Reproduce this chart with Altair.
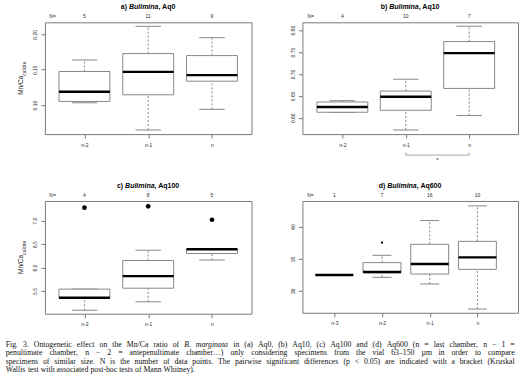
import altair as alt
import pandas as pd

# ---------------- data ----------------
cats3 = ["n-2", "n-1", "n"]
cats4 = ["n-3", "n-2", "n-1", "n"]

# a) Aq0
n_a = [5, 11, 9]
lo_a = [0.1033, 0.0648, 0.0940]
q1_a = [0.1052, 0.1146, 0.1338]
med_a = [0.1188, 0.1470, 0.1423]
q3_a = [0.1475, 0.1728, 0.1700]
hi_a = [0.1638, 0.2113, 0.1953]
yt_a = [0.10, 0.15, 0.20]

# b) Aq10
n_b = [4, 10, 7]
lo_b = [0.6125, 0.5720, 0.6050]
q1_b = [0.6125, 0.6170, 0.6670]
med_b = [0.6245, 0.6480, 0.7475]
q3_b = [0.6360, 0.6610, 0.7740]
hi_b = [0.6390, 0.6880, 0.8090]
yt_b = [0.60, 0.65, 0.70, 0.75, 0.80]

# c) Aq100
n_c = [4, 8, 5]
lo_c = [5.09, 5.27, 6.16]
q1_c = [5.345, 5.56, 6.30]
med_c = [5.355, 5.817, 6.39]
q3_c = [5.54, 6.15, 6.40]
hi_c = [5.54, 6.37, 6.40]
out_cat_c = ["n-2", "n-1", "n"]
out_val_c = [7.277, 7.306, 7.02]
yt_c = [5.5, 6.0, 6.5, 7.0]

# d) Aq600
n_d = [1, 7, 16, 10]
lo_d = [32.45, 32.08, 31.05, 27.14]
q1_d = [32.45, 32.80, 32.60, 33.33]
med_d = [32.45, 32.92, 34.17, 35.20]
q3_d = [32.45, 34.38, 37.24, 37.70]
hi_d = [32.45, 35.52, 40.94, 43.23]
out_cat_d = ["n-2"]
out_val_d = [37.5]
yt_d = [30, 35, 40]

# caption lines ("_" prefix marks italic words)
caption = [
    "Fig. 3.  Ontogenetic effect on the Mn/Ca ratio of _B. _marginata in (a) Aq0, (b) Aq10, (c) Aq100 and (d) Aq600 (n = last chamber, n \u2212 1 =",
    "penultimate chamber, n \u2212 2 = antepenultimate chamber\u2026) only considering specimens from the vial 63\u2013150 \u00b5m in order to compare",
    "specimens of similar size. N is the number of data points. The pairwise significant differences (p < 0.05) are indicated with a bracket (Kruskal",
    "Wallis test with associated post-hoc tests of Mann Whitney).",
]

GRAY = "#7a7a7a"
TXT = "#2a2a2a"
FONT = "Liberation Sans"
SERIF = "Liberation Serif"

# Arial bold advance widths (per 1000 em)
BW = {"a": 556, ")": 333, " ": 278, "B": 722, "u": 611, "l": 278, "i": 278, "m": 889,
      "n": 611, ",": 278, "A": 722, "q": 611, "0": 556, "1": 556, "6": 556,
      "b": 611, "c": 556, "d": 611}

# Times (Liberation Serif) advance widths (per 1000 em)
TW = {" ": 250, "(": 333, ")": 333, ",": 250, "-": 333, ".": 250, "/": 278, ":": 278,
      "<": 564, "=": 564, "\u2212": 564, "\u2013": 500, "\u2026": 1000, "\u00b5": 500,
      "A": 722, "B": 667, "C": 667, "D": 722, "E": 611, "F": 556, "G": 722, "H": 722,
      "I": 333, "J": 389, "K": 722, "L": 611, "M": 889, "N": 722, "O": 722, "P": 556,
      "Q": 722, "R": 667, "S": 556, "T": 611, "U": 722, "V": 722, "W": 944, "X": 722,
      "Y": 722, "Z": 611,
      "a": 444, "b": 500, "c": 444, "d": 500, "e": 444, "f": 333, "g": 500, "h": 500,
      "i": 278, "j": 278, "k": 500, "l": 278, "m": 778, "n": 500, "o": 500, "p": 500,
      "q": 500, "r": 333, "s": 389, "t": 278, "u": 500, "v": 500, "w": 722, "x": 500,
      "y": 500, "z": 444}
TWI = {"B": 611, ".": 250, "m": 722, "a": 500, "r": 389, "g": 500, "i": 278, "n": 500,
       "t": 278}


def bw(s, fs):
    return sum(BW.get(ch, 556) for ch in s) * fs / 1000.0


def tw(s, it, fs):
    tab = TWI if it else TW
    return sum(tab.get(ch, TW.get(ch, 500)) for ch in s) * fs / 1000.0


def panel(cats, ns, lo, q1, med, q3, hi, ydom, yticks, fmt, w, h, pad, align,
          boxw, letter, aq, ytitle=False, outs=None, outsize=22, bracket=None,
          phantom_top=None):
    df = pd.DataFrame(dict(cat=cats, n=[str(v) for v in ns], lo=lo, q1=q1,
                           med=med, q3=q3, hi=hi))
    xs = alt.Scale(type="point", domain=cats, padding=pad, align=align)
    ys = alt.Scale(domain=ydom, nice=False, zero=False)
    step = w / (len(cats) - 1 + 2 * pad)
    xax = alt.Axis(domain=False, grid=False, tickColor=GRAY, tickSize=4, labelFontSize=5,
                   labelPadding=4, labelColor=TXT, labelAngle=0, labelFont=FONT, title=None)
    yax = alt.Axis(values=yticks, format=fmt, domain=False, grid=False, tickColor=GRAY,
                   tickSize=4, labelAngle=-90, labelFontSize=5, labelPadding=3,
                   labelColor=TXT, labelFont=FONT, title=None)

    def X(f="cat"):
        return alt.X(f + ":N", scale=xs, axis=xax, title=None)

    def Y(f):
        return alt.Y(f + ":Q", scale=ys, axis=yax, title=None)

    base = alt.Chart(df)
    layers = []
    layers.append(base.mark_rule(color=GRAY, strokeDash=[2, 2], strokeWidth=0.9)
                  .encode(x=X(), y=Y("q3"), y2="hi:Q"))
    layers.append(base.mark_rule(color=GRAY, strokeDash=[2, 2], strokeWidth=0.9)
                  .encode(x=X(), y=Y("lo"), y2="q1:Q"))
    for f in ["hi", "lo"]:
        layers.append(base.mark_rule(color=GRAY, strokeWidth=0.9,
                                     xOffset=-boxw / 4, x2Offset=boxw / 4)
                      .encode(x=X(), x2="cat:N", y=Y(f)))
    layers.append(base.mark_rect(fill="white", stroke=GRAY, strokeWidth=0.9,
                                 xOffset=-boxw / 2, x2Offset=boxw / 2)
                  .encode(x=X(), x2="cat:N", y=Y("q1"), y2="q3:Q"))
    layers.append(base.mark_rule(color="black", strokeWidth=2.4,
                                 xOffset=-boxw / 2, x2Offset=boxw / 2)
                  .encode(x=X(), x2="cat:N", y=Y("med")))
    if outs is not None:
        odf = pd.DataFrame(dict(cat=outs[0], v=outs[1]))
        layers.append(alt.Chart(odf).mark_circle(color="black", opacity=1, size=outsize)
                      .encode(x=X(), y=Y("v")))
    # counts above the plot
    layers.append(base.mark_text(fontSize=5, color=TXT, font=FONT, baseline="middle")
                  .encode(x=X(), y=alt.value(-6), text="n:N"))
    ndf = pd.DataFrame(dict(cat=[cats[0]], t=["N="]))
    layers.append(alt.Chart(ndf).mark_text(fontSize=5, color=TXT, font=FONT,
                                           baseline="middle", dx=-step / 2)
                  .encode(x=X(), y=alt.value(-6), text="t:N"))
    # panel title  "a) Bulimina, Aq0"
    s1, s2, s3 = letter + ") ", "Bulimina", ", " + aq
    fs = 7
    tot = bw(s1, fs) + bw(s2, fs) + bw(s3, fs)
    x0 = w / 2 - tot / 2
    tdf = pd.DataFrame(dict(t=[s1, s2, s3],
                            px=[x0, x0 + bw(s1, fs), x0 + bw(s1, fs) + bw(s2, fs)],
                            st=["normal", "italic", "normal"]))
    for i in range(3):
        layers.append(alt.Chart(tdf.iloc[[i]]).mark_text(
            fontSize=fs, fontWeight="bold", fontStyle=tdf.st[i], font=FONT,
            align="left", baseline="middle", color="black")
            .encode(x=alt.value(float(tdf.px[i])), y=alt.value(-15.5), text="t:N"))
    if phantom_top is not None:
        # invisible spacer that reserves room above the panel title
        pdf = pd.DataFrame(dict(t=["x"]))
        layers.append(alt.Chart(pdf).mark_text(fontSize=5, opacity=0, baseline="top")
                      .encode(x=alt.value(w / 2), y=alt.value(phantom_top), text="t:N"))
    if ytitle:
        ydf = pd.DataFrame(dict(t=["Mn/Ca", "calcite"]))
        y0 = h / 2 - 2.5
        layers.append(alt.Chart(ydf.iloc[[0]]).mark_text(
            fontSize=6.5, font=FONT, angle=270, align="right", baseline="middle", color=TXT)
            .encode(x=alt.value(-24), y=alt.value(y0), text="t:N"))
        layers.append(alt.Chart(ydf.iloc[[1]]).mark_text(
            fontSize=5, font=FONT, angle=270, align="left", baseline="middle", color=TXT)
            .encode(x=alt.value(-21), y=alt.value(y0), text="t:N"))
    if bracket is not None:
        bdf = pd.DataFrame(dict(a=[bracket[0]], b=[bracket[1]], s=["*"]))
        bc = alt.Chart(bdf)
        layers.append(bc.mark_rule(color="#9a9a9a", strokeWidth=0.9)
                      .encode(x=X("a"), x2="b:N", y=alt.value(h + 21)))
        layers.append(bc.mark_rule(color="#9a9a9a", strokeWidth=0.9)
                      .encode(x=X("a"), y=alt.value(h + 18.5), y2=alt.value(h + 21)))
        layers.append(bc.mark_rule(color="#9a9a9a", strokeWidth=0.9)
                      .encode(x=X("b"), y=alt.value(h + 18.5), y2=alt.value(h + 21)))
        layers.append(bc.mark_text(fontSize=6, color=TXT, font=FONT, dx=step / 2,
                                   baseline="top")
                      .encode(x=X("a"), y=alt.value(h + 22.5), text="s:N"))
    return alt.layer(*layers).properties(width=w, height=h)


pa = panel(cats3, n_a, lo_a, q1_a, med_a, q3_a, hi_a, [0.059, 0.217], yt_a, ".2f",
           207, 112, 0.62, 0.5, 51, "a", "Aq0", ytitle=True)
pb = panel(cats3, n_b, lo_b, q1_b, med_b, q3_b, hi_b, [0.5626, 0.818], yt_b, ".2f",
           216, 112, 0.70, 0.45, 51, "b", "Aq10", bracket=("n-1", "n"))
pc = panel(cats3, n_c, lo_c, q1_c, med_c, q3_c, hi_c, [5.015, 7.42], yt_c, ".1f",
           207, 113, 0.62, 0.5, 51, "c", "Aq100", ytitle=True,
           outs=(out_cat_c, out_val_c), phantom_top=-24)
pd_ = panel(cats4, n_d, lo_d, q1_d, med_d, q3_d, hi_d, [26.56, 44.0], yt_d, "d",
            216, 112, 0.76, 0.44, 38, "d", "Aq600", outs=(out_cat_d, out_val_d), outsize=5,
            phantom_top=-24)

# ---- justified caption: one text item per word ----
CFS = 7.8
LINE_W = 510.0
LEAD = 8.6
X0 = -39.3
rows = []
for li, line in enumerate(caption):
    words = line.split()
    items = [(wd.lstrip("_"), wd.startswith("_")) for wd in words]
    widths = [tw(t, it, CFS) for t, it in items]
    if li < len(caption) - 1:
        gap = (LINE_W - sum(widths)) / (len(items) - 1)
    else:
        gap = TW[" "] * CFS / 1000.0
    x = X0
    for (t, it), wd in zip(items, widths):
        rows.append(dict(w=t, x=x, y=li * LEAD, it=it))
        x += wd + gap
cap = pd.DataFrame(rows)
PX = alt.Scale(domain=[0, 100], range=[0, 100])
cap_n = alt.Chart(cap[~cap.it]).mark_text(align="left", baseline="top", font=SERIF,
                                          fontSize=CFS, color="#111111").encode(
    x=alt.X("x:Q", scale=PX, axis=None), y=alt.Y("y:Q", scale=PX, axis=None), text="w:N")
cap_i = alt.Chart(cap[cap.it]).mark_text(align="left", baseline="top", font=SERIF,
                                         fontSize=CFS, fontStyle="italic",
                                         color="#111111").encode(
    x=alt.X("x:Q", scale=PX, axis=None), y=alt.Y("y:Q", scale=PX, axis=None), text="w:N")
capchart = alt.layer(cap_n, cap_i).properties(
    width=1, height=1, view=alt.ViewBackground(strokeOpacity=0))

row1 = alt.hconcat(pa, pb, spacing=37)
row2 = alt.hconcat(pc, pd_, spacing=37)

chart = alt.vconcat(row1, row2, capchart, spacing=13).properties(
    padding={"left": 5, "top": 2, "right": 0, "bottom": 0},
    background="white",
).configure_view(stroke=GRAY, strokeWidth=1)

chart.save("out.html", embed_options={"renderer": "svg", "actions": False})
